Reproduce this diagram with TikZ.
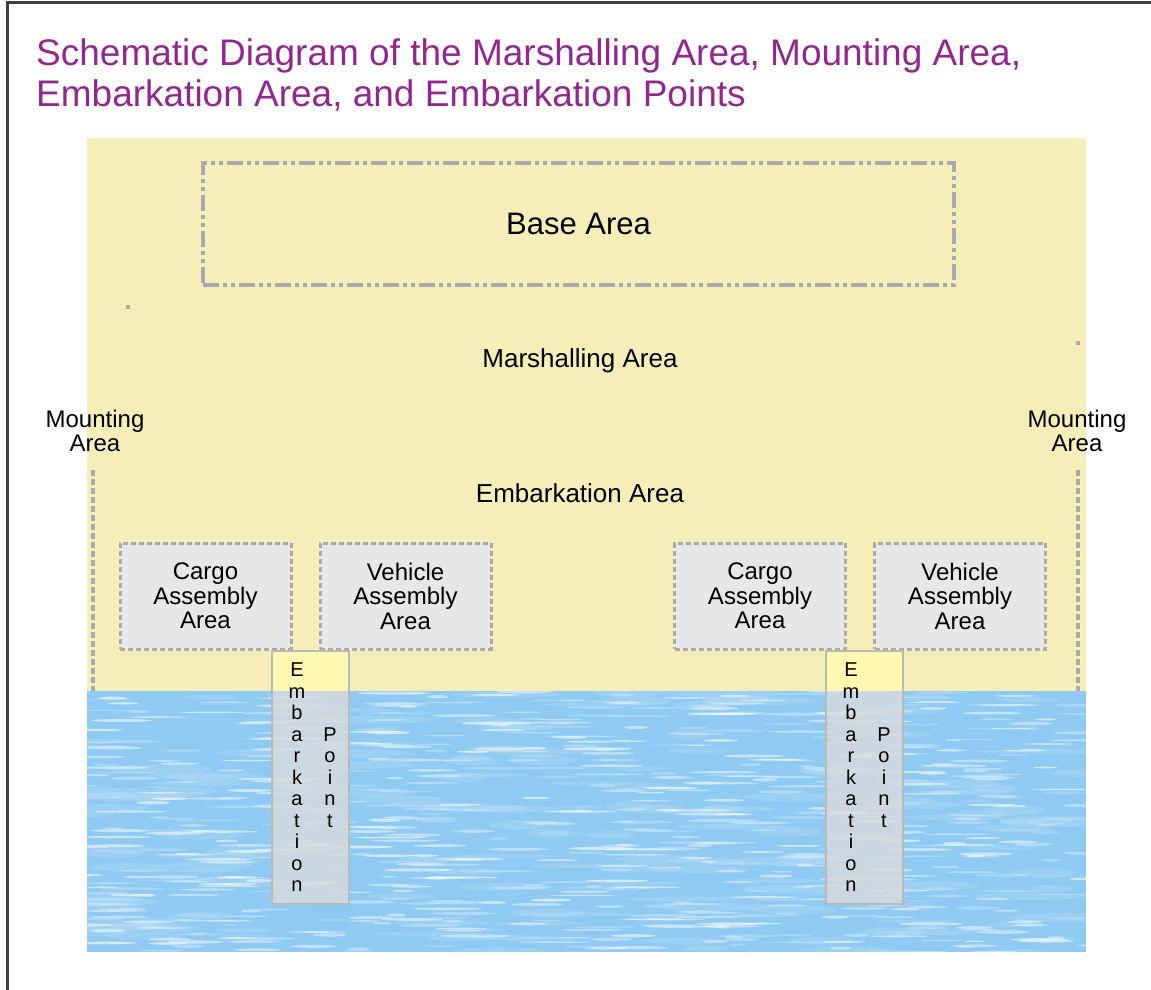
\documentclass[tikz,border=0pt]{standalone}
\usepackage{fontspec}
\setmainfont{Liberation Sans}
\usetikzlibrary{positioning}

\definecolor{TitlePurple}{RGB}{146,39,143}
\definecolor{LandYellow}{RGB}{245,238,184}
\definecolor{SeaBlue}{RGB}{143,202,242}
\definecolor{LineGrey}{RGB}{170,170,174}
\definecolor{BoxGrey}{RGB}{230,231,233}
\definecolor{PierYellow}{RGB}{255,248,176}
\definecolor{PierGrey}{RGB}{214,218,222}
\definecolor{PierEdge}{RGB}{185,185,185}
\definecolor{FrameGrey}{RGB}{64,64,64}

\tikzset{
  TitleText/.style={font=\fontsize{37}{40}\selectfont, text=TitlePurple, inner sep=0pt},
  AreaText/.style={font=\fontsize{26}{28}\selectfont, inner sep=0pt},
  MountText/.style={font=\fontsize{24}{24}\selectfont, align=center, inner sep=0pt},
  BaseBox/.style={draw=LineGrey, line width=4.5pt, minimum width=751pt, minimum height=122pt,
    dash pattern=on 16pt off 4pt on 4pt off 4pt on 4pt off 4pt,
    font=\fontsize{31}{32}\selectfont},
  AssemblyBox/.style={draw=LineGrey, fill=BoxGrey, line width=3pt, dash pattern=on 5pt off 3pt,
    minimum width=171pt, minimum height=106pt, outer sep=0pt, align=center,
    font=\fontsize{24}{24.5}\selectfont},
  MountLine/.style={draw=LineGrey, line width=3.5pt, dash pattern=on 6pt off 3pt},
  PierBox/.style={draw=PierEdge, line width=1.2pt, fill=PierGrey, fill opacity=0.85,
    minimum width=77pt, minimum height=253pt, outer sep=0pt,
    path picture={\fill[PierYellow, fill opacity=1] (path picture bounding box.north west)
      rectangle ([yshift=-40pt]path picture bounding box.north east);}},
  PierText/.style={font=\fontsize{20}{21.5}\selectfont, align=center, inner sep=0pt}
}

\begin{document}
\begin{tikzpicture}[x=1pt,y=-1pt]
	\useasboundingbox (0,0) rectangle (1151,990);

	% frame
	\draw [FrameGrey, line width=3pt] (7,995) -- (7,3) -- (1160,3);

	% title
	\node [TitleText, anchor=base west] (TitleTop) at (36,66) {Schematic Diagram of the Marshalling Area, Mounting Area,};
	\node [TitleText, anchor=base west] (TitleBottom) at ([yshift=-40pt]TitleTop.base west) {Embarkation Area, and Embarkation Points};

	% land and sea
	\coordinate (LandTopLeft) at (87,138);
	\coordinate (ShoreLeft) at (87,691);
	\coordinate (ShoreRight) at (1086,691);
	\coordinate (SeaBottomRight) at (1086,952);
	\fill [LandYellow] (LandTopLeft) rectangle (ShoreRight);
	\fill [SeaBlue] (ShoreLeft) rectangle (SeaBottomRight);
	\begin{scope}
		\clip (ShoreLeft) rectangle (SeaBottomRight);
		\pgfmathsetseed{23}
		% soft patches
		\foreach \i in {1,...,160} {
			\pgfmathsetmacro\sx{80+1010*rnd}
			\pgfmathsetmacro\sy{690+265*rnd}
			\pgfmathsetmacro\rx{20+40*rnd}
			\pgfmathsetmacro\ry{2+3*rnd}
			\fill [white, opacity=0.12] (\sx,\sy) ellipse (\rx pt and \ry pt);
		}
		% streaks
		\foreach \i in {1,...,650} {
			\pgfmathsetmacro\sx{80+1010*rnd}
			\pgfmathsetmacro\sy{690+265*rnd}
			\pgfmathsetmacro\rx{8+28*rnd}
			\pgfmathsetmacro\ry{0.6+1.1*rnd}
			\pgfmathsetmacro\op{0.15+0.45*rnd}
			\fill [white, opacity=\op] (\sx,\sy) ellipse (\rx pt and \ry pt);
		}
	\end{scope}

	% base area
	\node [BaseBox] (BaseArea) at (578.5,224) {Base Area};
	\fill [LineGrey] (126,305) rectangle (130,309);
	\fill [LineGrey] (1076,341) rectangle (1080,345);

	\node [AreaText] (Marshalling) at (580,361) {Marshalling Area};
	\node [AreaText] (Embarkation) at (580,493) {Embarkation Area};

	% mounting area
	\node [MountText] (MountLeft) at (95,431) {Mounting\\Area};
	\node [MountText] (MountRight) at (1077,431) {Mounting\\Area};
	\coordinate (MountLeftTop) at (93,470);
	\coordinate (MountRightTop) at (1078,470);
	\draw [MountLine] (MountLeftTop) -- (MountLeftTop |- ShoreLeft);
	\draw [MountLine] (MountRightTop) -- (MountRightTop |- ShoreLeft);

	% assembly areas
	\node [AssemblyBox] (CargoLeft) at (205.5,596) {Cargo\\Assembly\\Area};
	\node [AssemblyBox, right=29pt of CargoLeft] (VehicleLeft) {Vehicle\\Assembly\\Area};
	\node [AssemblyBox] (CargoRight) at (760,596) {Cargo\\Assembly\\Area};
	\node [AssemblyBox, right=29pt of CargoRight] (VehicleRight) {Vehicle\\Assembly\\Area};

	% embarkation points
	\node [PierBox] (PierLeft) at (310.5,777.5) {};
	\node [PierBox] (PierRight) at (864.5,777.5) {};
	\foreach \pier in {PierLeft,PierRight} {
		\node [PierText] at ([xshift=-13.5pt]\pier.center) {E\\m\\b\\a\\r\\k\\a\\t\\i\\o\\n};
		\node [PierText] at ([xshift=19.5pt]\pier.center) {P\\o\\i\\n\\t};
	}
\end{tikzpicture}
\end{document}
